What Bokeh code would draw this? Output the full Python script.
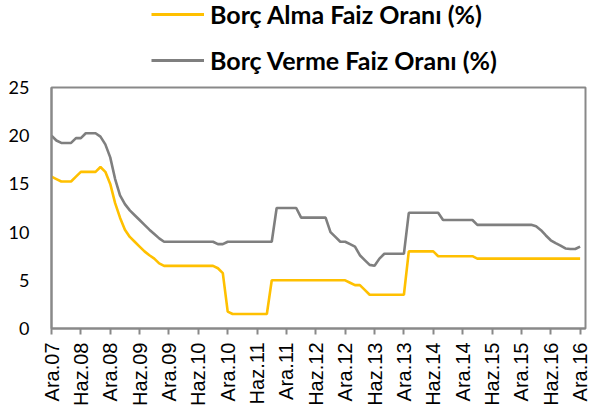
from bokeh.plotting import figure
from bokeh.layouts import column
from bokeh.models import ColumnDataSource, Range1d, FixedTicker, Legend, LegendItem
from bokeh.embed import file_html
from bokeh.resources import INLINE
import math

# Monthly values, Ara.07 (Dec 2007) .. Ara.16 (Dec 2016)
borc_alma = [
    15.75, 15.5, 15.25, 15.25, 15.25, 15.75, 16.25, 16.25, 16.25, 16.25, 16.75, 16.25,
    15.0, 13.0, 11.5, 10.25, 9.5, 9.0, 8.5, 8.0, 7.6, 7.25, 6.75, 6.5,
    6.5, 6.5, 6.5, 6.5, 6.5, 6.5, 6.5, 6.5, 6.5, 6.5, 6.25, 5.75,
    1.75, 1.5, 1.5, 1.5, 1.5, 1.5, 1.5, 1.5, 1.5, 5.0, 5.0, 5.0,
    5.0, 5.0, 5.0, 5.0, 5.0, 5.0, 5.0, 5.0, 5.0, 5.0, 5.0, 5.0,
    5.0, 4.75, 4.5, 4.5, 4.0, 3.5, 3.5, 3.5, 3.5, 3.5, 3.5, 3.5,
    3.5, 8.0, 8.0, 8.0, 8.0, 8.0, 8.0, 7.5, 7.5, 7.5, 7.5, 7.5,
    7.5, 7.5, 7.5, 7.25, 7.25, 7.25, 7.25, 7.25, 7.25, 7.25, 7.25, 7.25,
    7.25, 7.25, 7.25, 7.25, 7.25, 7.25, 7.25, 7.25, 7.25, 7.25, 7.25, 7.25,
    7.25,
]
borc_verme = [
    20.0, 19.5, 19.25, 19.25, 19.25, 19.75, 19.75, 20.25, 20.25, 20.25, 19.9, 19.1,
    17.75, 15.5, 13.8, 12.9, 12.25, 11.75, 11.25, 10.75, 10.25, 9.8, 9.35, 9.0,
    9.0, 9.0, 9.0, 9.0, 9.0, 9.0, 9.0, 9.0, 9.0, 9.0, 8.75, 8.75,
    9.0, 9.0, 9.0, 9.0, 9.0, 9.0, 9.0, 9.0, 9.0, 9.0, 12.5, 12.5,
    12.5, 12.5, 12.5, 11.5, 11.5, 11.5, 11.5, 11.5, 11.5, 10.0, 9.5, 9.0,
    9.0, 8.75, 8.5, 7.6, 7.1, 6.6, 6.5, 7.25, 7.75, 7.75, 7.75, 7.75,
    7.75, 12.0, 12.0, 12.0, 12.0, 12.0, 12.0, 12.0, 11.25, 11.25, 11.25, 11.25,
    11.25, 11.25, 11.25, 10.75, 10.75, 10.75, 10.75, 10.75, 10.75, 10.75, 10.75, 10.75,
    10.75, 10.75, 10.75, 10.6, 10.2, 9.65, 9.15, 8.85, 8.6, 8.3, 8.25, 8.25,
    8.5,
]
tick_labels = ["Ara.07", "Haz.08", "Ara.08", "Haz.09", "Ara.09", "Haz.10", "Ara.10",
               "Haz.11", "Ara.11", "Haz.12", "Ara.12", "Haz.13", "Ara.13", "Haz.14",
               "Ara.14", "Haz.15", "Ara.15", "Haz.16", "Ara.16"]
series_names = ["Borç Alma Faiz Oranı (%)", "Borç Verme Faiz Oranı (%)"]
series_colors = ["#FFC000", "#7F7F7F"]
y_ticks = [0, 5, 10, 15, 20, 25]

months = list(range(len(borc_alma)))
src = ColumnDataSource(data=dict(m=months, alma=borc_alma, verme=borc_verme))

AXIS = "#898989"

# ---- legend strip (top); its data lies outside its own view, only the legend shows ----
leg = figure(width=590, height=77, output_backend="svg", toolbar_location=None,
             x_range=Range1d(-300, -200), y_range=Range1d(-300, -200),
             x_axis_location=None, y_axis_location=None,
             min_border_left=0, min_border_right=0, min_border_top=0, min_border_bottom=0)
leg.grid.visible = False
leg.outline_line_color = None
lr1 = leg.line("m", "alma", source=src, line_color=series_colors[0], line_width=2.8)
lr2 = leg.line("m", "verme", source=src, line_color=series_colors[1], line_width=2.8)
legend = Legend(items=[LegendItem(label=series_names[0], renderers=[lr1]),
                       LegendItem(label=series_names[1], renderers=[lr2])],
                location=(100, 2), orientation="vertical",
                border_line_color=None, background_fill_alpha=0,
                padding=0, margin=0, spacing=16, label_standoff=6,
                glyph_width=53, glyph_height=20, label_height=20,
                label_text_font="Lato", label_text_font_style="bold",
                label_text_font_size="25px", label_text_color="#000000")
leg.add_layout(legend, "center")

# ---- main chart ----
p = figure(width=590, height=331, output_backend="svg", toolbar_location=None,
           x_range=Range1d(0, 109.1), y_range=Range1d(0, 25),
           min_border_left=51, min_border_right=5, min_border_top=10, min_border_bottom=78)

p.line("m", "alma", source=src, line_color=series_colors[0], line_width=2.6)
p.line("m", "verme", source=src, line_color=series_colors[1], line_width=2.6)

p.xgrid.visible = False
p.ygrid.visible = False
p.outline_line_color = AXIS
p.outline_line_width = 2

tick_pos = [6 * i for i in range(len(tick_labels))]
p.xaxis.ticker = FixedTicker(ticks=tick_pos)
p.xaxis.major_label_overrides = {t: l for t, l in zip(tick_pos, tick_labels)}
p.xaxis.major_label_orientation = math.pi / 2
p.xaxis.major_label_text_font = "Liberation Sans"
p.xaxis.major_label_text_font_size = "20px"
p.xaxis.major_label_text_color = "#000000"
p.xaxis.major_label_standoff = 8
p.xaxis.axis_line_color = AXIS
p.xaxis.axis_line_width = 2
p.xaxis.major_tick_line_color = AXIS
p.xaxis.major_tick_line_width = 2
p.xaxis.major_tick_in = 0
p.xaxis.major_tick_out = 6
p.xaxis.minor_tick_line_color = None

p.yaxis.ticker = FixedTicker(ticks=y_ticks)
p.yaxis.major_label_text_font = "Lato"
p.yaxis.major_label_text_font_size = "18px"
p.yaxis.major_label_text_color = "#000000"
p.yaxis.major_label_standoff = 22
p.yaxis.axis_line_color = AXIS
p.yaxis.axis_line_width = 2
p.yaxis.major_tick_line_color = None
p.yaxis.minor_tick_line_color = None
p.yaxis.major_tick_out = 0
p.yaxis.major_tick_in = 0

layout = column(leg, p, spacing=0)
open("out.html", "w").write(file_html(layout, INLINE))
